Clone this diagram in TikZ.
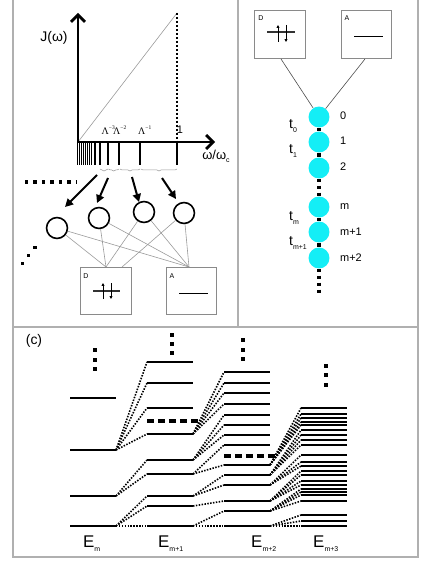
\documentclass[tikz,border=0pt]{standalone}
\usepackage{fontspec}
\setmainfont{Liberation Sans}
\newfontfamily\serifgr{Liberation Serif}
\usetikzlibrary{arrows.meta,decorations.pathreplacing}
\definecolor{framegray}{HTML}{B0B0B0}
\definecolor{boxgray}{HTML}{8A8A8A}
\definecolor{linkgray}{HTML}{9A9A9A}
\definecolor{chaincyan}{HTML}{14EEF6}
\newcommand\sbs[1]{\raisebox{-0.45ex}{\fontsize{7}{7}\selectfont #1}}
\newcommand\sps[1]{\raisebox{1.0ex}{\fontsize{5.5}{6}\selectfont #1}}
\begin{document}
\begin{tikzpicture}[x=1bp,y=-1bp,
  frameline/.style={draw=framegray, line width=1.4pt},
  axisline/.style={line width=2.8pt, -{Straight Barb[length=7pt,width=14pt]}},
  tickline/.style={line width=2pt},
  thintick/.style={line width=1.1pt},
  bigarrow/.style={line width=2pt, -{Triangle[length=8pt,width=8pt]}},
  bathsite/.style={circle, draw, line width=1.6pt, minimum size=21pt, inner sep=0pt},
  sitebox/.style={draw=boxgray, line width=0.9pt, minimum width=51pt, minimum height=48pt, inner sep=0pt},
  link/.style={draw=linkgray, line width=0.6pt},
  chainsite/.style={circle, fill=chaincyan, minimum size=21pt, inner sep=0pt},
  chainline/.style={line width=3.2pt},
  chaindots/.style={line width=3.5pt, dash pattern=on 3.5pt off 3.5pt},
  lev/.style={line width=2.1pt},
  con/.style={line width=1.6pt, dash pattern=on 1.5pt off 1.4pt},
  cutline/.style={line width=3.5pt, dash pattern=on 7pt off 4pt},
  lbl/.style={inner sep=0pt, font=\fontsize{11}{13}\selectfont},
  lamlbl/.style={inner sep=0pt, anchor=west, font=\fontsize{10}{12}\selectfont\serifgr},
  smalllbl/.style={inner sep=0pt, font=\fontsize{7}{8}\selectfont},
  dot/.style={fill=black},
  levelarrow/.style={line width=0.9pt, -{Triangle[length=3pt,width=3pt]}},
  bracestyle/.style={draw=linkgray, line width=0.5pt, decorate, decoration={brace, mirror, amplitude=2pt}}
]
\useasboundingbox (0,0) rectangle (436,564);

% ---------- frame ----------
\draw[frameline] (13,-3) -- (13,557) -- (418,557) -- (418,-3);
\draw[frameline] (13,327) -- (418,327);
\draw[frameline] (238,-3) -- (238,327);

% ---------- panel (a) ----------
\coordinate (O) at (78,142);
\coordinate (ytip) at (78,13);
\coordinate (xtip) at (215,142);
\coordinate (top1) at (177,13);
\coordinate (base1) at (177,142);
\draw[linkgray, line width=0.6pt] (O) -- (top1);
\draw[line width=2pt, dash pattern=on 2pt off 2pt] (top1) -- (base1);
\foreach \x in {77.5,79.5,81.5,83.5,85.5,87.5,89.5,91.5}
  \draw[thintick] (\x,142) -- (\x,165);
\foreach \x in {95,100,108,119,140,177}
  \draw[tickline] (\x,142) -- (\x,165);
\draw[axisline] (O) -- (ytip);
\draw[axisline] (O) -- (xtip);
\node[inner sep=0pt, font=\fontsize{14}{16}\selectfont] (Jlab) at (54,38) {J(ω)};
\node[inner sep=0pt, font=\fontsize{13}{15}\selectfont] (wlab) at (216,156) {ω/ω\sbs{c}};
\node[lbl] (one) at (180,130) {1};
\node[lamlbl] (L3) at (101.5,130) {Λ\sps{−3}};
\node[lamlbl] (L2) at (113,130) {Λ\sps{−2}};
\node[lamlbl] (L1) at (138,130) {Λ\sps{−1}};

\draw[bracestyle] (100,169) -- (108,169);
\draw[bracestyle] (108.5,169) -- (119,169);
\draw[bracestyle] (120,169) -- (140,169);
\draw[bracestyle] (141,169) -- (177,169);

\node[bathsite] (c1) at (57,228) {};
\node[bathsite] (c2) at (99,218) {};
\node[bathsite] (c3) at (144,212) {};
\node[bathsite] (c4) at (184,213) {};

\coordinate (s1) at (97,175);  \coordinate (e1) at (65,207);
\coordinate (s2) at (108,178); \coordinate (e2) at (97,203);
\coordinate (s3) at (132,177); \coordinate (e3) at (139,202);
\coordinate (s4) at (162,178); \coordinate (e4) at (176,199);
\draw[bigarrow] (s1) -- (e1);
\draw[bigarrow] (s2) -- (e2);
\draw[bigarrow] (s3) -- (e3);
\draw[bigarrow] (s4) -- (e4);

\coordinate (hd1) at (25,182); \coordinate (hd2) at (76,182);
\draw[line width=3.5pt, dash pattern=on 3.5pt off 5pt] (hd1) -- (hd2);
\fill[dot] (20.5,261.5) rectangle ++(3.5,3.5);
\fill[dot] (26.5,253.5) rectangle ++(3.5,3.5);
\fill[dot] (33,245.5) rectangle ++(3.5,3.5);

\node[sitebox] (D1) at (106,291) {};
\node[sitebox] (A1) at (191.5,291) {};
\node[smalllbl] (D1lab) at (86,276) {D};
\node[smalllbl] (A1lab) at (172,276) {A};
\draw[black!80, line width=1.3pt] (93,291) -- (120,291);
\draw[levelarrow] (103,299) -- (103,283);
\draw[levelarrow] (111,283) -- (111,299);
\draw[line width=1pt] (179,293) -- (208,293);

\coordinate (dt1) at (106,267);
\coordinate (dt2) at (122,267);
\coordinate (at1) at (189,267);
\draw[link] (c1) -- (dt1);
\draw[link] (c1) -- (at1);
\draw[link] (c2) -- (dt1);
\draw[link] (c2) -- (at1);
\draw[link] (c3) -- (dt1);
\draw[link] (c3) -- (at1);
\draw[link] (c4) -- (dt2);
\draw[link] (c4) -- (at1);

% ---------- panel (b) ----------
\node[sitebox] (D2) at (280,34.5) {};
\node[sitebox] (A2) at (366.5,34.5) {};
\node[smalllbl] (D2lab) at (261,18) {D};
\node[smalllbl] (A2lab) at (347,18) {A};
\draw[black!80, line width=1.3pt] (267,32) -- (295,32);
\draw[levelarrow] (278,42) -- (278,25);
\draw[levelarrow] (286,25) -- (286,42);
\draw[line width=1pt] (354,37) -- (383,37);

\node[chainsite] (n0) at (319,117) {};
\node[chainsite] (n1) at (319,142) {};
\node[chainsite] (n2) at (319,168) {};
\node[chainsite] (n3) at (319,207) {};
\node[chainsite] (n4) at (319,232) {};
\node[chainsite] (n5) at (319,258) {};
\coordinate (chainend) at (319,294);
\coordinate (db) at (281,59);
\coordinate (ab) at (365,59);
\draw[black!70, line width=0.6pt] (db) -- (n0);
\draw[black!70, line width=0.6pt] (ab) -- (n0);
\draw[chainline] (n0.south) -- (n1.north);
\draw[chainline] (n1.south) -- (n2.north);
\draw[chaindots] (n2.south) -- (n3.north);
\draw[chainline] (n3.south) -- (n4.north);
\draw[chainline] (n4.south) -- (n5.north);
\draw[chaindots] (n5.south) -- (chainend);

\node[lbl, anchor=west] (k0) at (340,116) {0};
\node[lbl, anchor=west] (k1) at (340,141) {1};
\node[lbl, anchor=west] (k2) at (340,167) {2};
\node[lbl, anchor=west] (k3) at (340,207) {m};
\node[lbl, anchor=west] (k4) at (340,232) {m+1};
\node[lbl, anchor=west] (k5) at (340,258) {m+2};
\node[inner sep=0pt, anchor=west, font=\fontsize{14}{16}\selectfont] (t0) at (289,126) {t\sbs{0}};
\node[inner sep=0pt, anchor=west, font=\fontsize{14}{16}\selectfont] (t1) at (289,151) {t\sbs{1}};
\node[inner sep=0pt, anchor=west, font=\fontsize{14}{16}\selectfont] (tm) at (289,218) {t\sbs{m}};
\node[inner sep=0pt, anchor=west, font=\fontsize{14}{16}\selectfont] (tm1) at (289,243) {t\sbs{m+1}};

% ---------- panel (c) ----------
\node[inner sep=0pt, font=\fontsize{14}{16}\selectfont] (clab) at (34,341) {(c)};

% column E_m
\draw[line width=1.4pt] (70,398) -- (116,398);
\foreach \y in {450,496,526}
  \draw[lev] (70,\y) coordinate (al\y) -- (116,\y) coordinate (ar\y);
% column E_{m+1}
\foreach \y in {362,383,408,434,460,474,496,506,526}
  \draw[lev] (147,\y) coordinate (bl\y) -- (193,\y) coordinate (br\y);
% column E_{m+2}
\foreach \y in {372,383,393,404,415,425,435,445,465,475,485,501,511,526}
  \draw[lev] (224,\y) coordinate (cl\y) -- (270,\y) coordinate (cr\y);
% column E_{m+3}
\foreach \y in {408,414,418,422,425,430,435,440,445,455,462,466,471,475,481,485,489,492,495,501,515,521,526}
  \draw[lev] (301,\y) coordinate (dl\y) -- (347,\y) coordinate (dr\y);

% truncation lines
\draw[cutline] (147,421) -- (198,421);
\draw[cutline] (224,456) -- (276,456);

% connectors
\foreach \s/\t in {450/362,450/383,450/408,450/434,496/460,496/474,526/496,526/506,526/526}
  \draw[con] (ar\s) -- (bl\t);
\foreach \s/\t in {434/372,434/383,434/393,434/404,460/415,460/425,460/435,474/445,474/465,496/475,496/485,506/501,526/511,526/526}
  \draw[con] (br\s) -- (cl\t);
\foreach \s/\t in {465/408,465/414,465/418,465/422,465/425,475/430,475/435,475/440,475/445,485/455,485/462,485/466,501/471,501/475,501/481,501/485,511/489,511/492,511/495,511/501,526/515,526/521,526/526}
  \draw[con] (cr\s) -- (dl\t);

% vertical ellipsis dots
\foreach \x/\y in {95/350,95/360,95/369,172/335,172/344,172/353,243/340,243/350,243/359,326/366,326/375,326/385}
  \fill[dot] (\x-1.6,\y-1.6) rectangle (\x+1.6,\y+1.6);

% column labels
\node[inner sep=0pt, anchor=base west, font=\fontsize{17}{19}\selectfont] (Em) at (83,547) {E\sbs{m}};
\node[inner sep=0pt, anchor=base west, font=\fontsize{17}{19}\selectfont] (Em1) at (158,547) {E\sbs{m+1}};
\node[inner sep=0pt, anchor=base west, font=\fontsize{17}{19}\selectfont] (Em2) at (251,547) {E\sbs{m+2}};
\node[inner sep=0pt, anchor=base west, font=\fontsize{17}{19}\selectfont] (Em3) at (313,547) {E\sbs{m+3}};
\end{tikzpicture}
\end{document}
